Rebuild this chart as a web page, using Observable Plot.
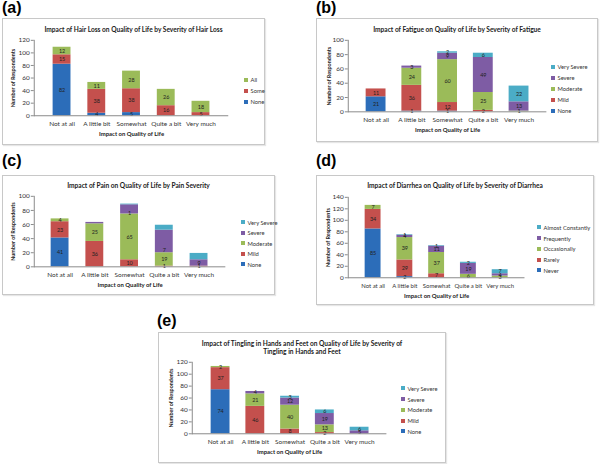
<!DOCTYPE html>
<html><head><meta charset="utf-8">
<script src="https://cdn.jsdelivr.net/npm/d3@7"></script>
<script src="https://cdn.jsdelivr.net/npm/@observablehq/plot@0.6"></script>
<style>
body{margin:0;background:#fff;}
#root{position:relative;width:600px;height:464px;overflow:hidden;font-family:Lato,"Open Sans",sans-serif;}
.panel{position:absolute;box-sizing:border-box;border:1px solid #c8c8c8;box-shadow:1px 1px 1px #e6e6e6;background:#fff;}
.panel svg{position:absolute;left:-1px;top:-1px;}
.plabel{position:absolute;font:bold 16px "Liberation Sans",Arial,sans-serif;line-height:16px;color:#000;}
.ptitle{position:absolute;left:0;right:0;text-align:center;font-weight:bold;font-size:6.6px;line-height:8px;color:#222;}
.legend{position:absolute;font-size:5.8px;color:#333;}
.legend div{display:flex;align-items:center;white-space:nowrap;}
.legend span.sw{display:inline-block;width:4px;height:4px;margin-right:2.5px;}
</style></head><body><div id="root"></div>
<script>
const categories = ["Not at all", "A little bit", "Somewhat", "Quite a bit", "Very much"];

// (a) Hair loss
const hairSeries = ["None", "Some", "All"];
const hairNone = [82, 4, 5, 0, 0];
const hairSome = [15, 38, 38, 16, 5];
const hairAll = [12, 11, 28, 26, 18];

// (b) Fatigue
const severitySeries = ["None", "Mild", "Moderate", "Severe", "Very Severe"];
const fatigueNone = [21, 1, 1, 0, 0];
const fatigueMild = [11, 36, 12, 2, 0];
const fatigueModerate = [0, 24, 60, 25, 1];
const fatigueSevere = [0, 3, 9, 49, 13];
const fatigueVerySevere = [0, 0, 2, 6, 22];

// (c) Pain
const painNone = [41, 0, 0, 0, 0];
const painMild = [23, 36, 10, 1, 1];
const painModerate = [4, 25, 65, 19, 0];
const painSevere = [0, 2, 13, 32, 9];
const painVerySevere = [0, 0, 1, 7, 9];

// (d) Diarrhea
const diarrheaSeries = ["Never", "Rarely", "Occasionally", "Frequently", "Almost Constantly"];
const diarrheaNever = [85, 2, 0, 0, 0];
const diarrheaRarely = [34, 29, 7, 0, 0];
const diarrheaOccasionally = [7, 39, 37, 6, 3];
const diarrheaFrequently = [0, 4, 11, 19, 4];
const diarrheaAlmostConstantly = [0, 1, 1, 2, 7];

// (e) Tingling
const tinglingNone = [74, 0, 0, 0, 0];
const tinglingMild = [37, 46, 8, 2, 0];
const tinglingModerate = [2, 21, 40, 13, 0];
const tinglingSevere = [0, 4, 12, 19, 5];
const tinglingVerySevere = [0, 0, 3, 6, 6];

const yTicks100 = [0, 20, 40, 60, 80, 100];
const yTicks120 = [0, 20, 40, 60, 80, 100, 120];
const yTicks140 = [0, 20, 40, 60, 80, 100, 120, 140];

const palette = ["#2C6DB9", "#C4504D", "#9BBB59", "#7E5CA4", "#4BACC6"];
const xLabel = "Impact on Quality of Life";
const yLabel = "Number of Respondents";

const root = document.getElementById("root");

function panel(cfg) {
  const tag = document.createElement("div");
  tag.className = "plabel";
  tag.textContent = cfg.tag;
  tag.style.left = cfg.tagPos[0] + "px";
  tag.style.top = cfg.tagPos[1] + "px";
  root.appendChild(tag);

  const box = document.createElement("div");
  box.className = "panel";
  Object.assign(box.style, {left: cfg.box[0] + "px", top: cfg.box[1] + "px", width: cfg.box[2] + "px", height: cfg.box[3] + "px"});

  const data = [];
  cfg.series.forEach((s, i) => categories.forEach((c, j) => data.push({category: c, series: s, value: cfg.values[i][j]})));
  const colors = palette.slice(0, cfg.series.length);
  const [ml, mr, mt, mb] = cfg.margins;
  const fs = cfg.tickFont || 6.5;

  const svg = Plot.plot({
    width: cfg.box[2], height: cfg.box[3],
    marginLeft: ml, marginRight: mr, marginTop: mt, marginBottom: mb,
    style: {fontFamily: "Lato, 'Open Sans', sans-serif", fontSize: fs + "px", color: "#333", background: "transparent", overflow: "visible"},
    x: {domain: categories, padding: cfg.padding, label: null},
    y: {domain: [0, cfg.ticks[cfg.ticks.length - 1]], label: null},
    color: {domain: cfg.series, range: colors},
    marks: [
      Plot.axisY({ticks: cfg.ticks, tickSize: 3, tickPadding: 1.5, label: null, stroke: "#8a8a8a", fontSize: 6.5}),
      Plot.axisX({tickSize: 0, tickPadding: 6, label: null, fontSize: fs}),
      Plot.barY(data, {x: "category", y: "value", fill: "series"}),
      Plot.text(data, Plot.stackY({x: "category", y: "value", text: d => d.value,
        filter: d => d.value > 0 && !(cfg.noLabel || []).includes(d.series),
        fontSize: 5.5, fill: "#222"})),
      Plot.ruleY([0], {stroke: "#8a8a8a"}),
      Plot.frame({anchor: "left", stroke: "#8a8a8a"}),
      Plot.text([yLabel], {frameAnchor: "left", text: d => d, rotate: -90, dx: cfg.ylabelDx, textAnchor: "middle", lineAnchor: "middle", fontWeight: "bold", fontSize: 5.5, fill: "#222"}),
      Plot.text([xLabel], {frameAnchor: "bottom", text: d => d, dy: 18, textAnchor: "middle", lineAnchor: "middle", fontWeight: "bold", fontSize: 6, fill: "#222"})
    ]
  });
  box.appendChild(svg);

  const title = document.createElement("div");
  title.className = "ptitle";
  title.style.top = cfg.titleTop + "px";
  title.innerHTML = cfg.title.join("<br>");
  box.appendChild(title);

  const legend = document.createElement("div");
  legend.className = "legend";
  legend.style.left = cfg.legend[0] + "px";
  legend.style.top = cfg.legend[1] + "px";
  cfg.series.slice().reverse().forEach(s => {
    const row = document.createElement("div");
    row.style.height = cfg.legend[2] + "px";
    const sw = document.createElement("span");
    sw.className = "sw";
    sw.style.background = colors[cfg.series.indexOf(s)];
    row.appendChild(sw);
    row.appendChild(document.createTextNode(s));
    legend.appendChild(row);
  });
  box.appendChild(legend);
  root.appendChild(box);
}

panel({tag: "(a)", tagPos: [2, 0], box: [2, 18, 263, 127], margins: [32, 35, 22, 29], padding: 0.48,
  ticks: yTicks120, series: hairSeries, values: [hairNone, hairSome, hairAll], ylabelDx: -21,
  title: ["Impact of Hair Loss on Quality of Life by Severity of Hair Loss"], titleTop: 6, legend: [241, 55, 11]});

panel({tag: "(b)", tagPos: [316, 0], box: [316, 18, 282, 124], margins: [32, 50, 22, 30], padding: 0.45,
  ticks: yTicks100, series: severitySeries, values: [fatigueNone, fatigueMild, fatigueModerate, fatigueSevere, fatigueVerySevere], ylabelDx: -19,
  title: ["Impact of Fatigue on Quality of Life by Severity of Fatigue"], titleTop: 6, legend: [234, 42, 11]});

panel({tag: "(c)", tagPos: [2, 153], box: [2, 175, 273, 120], margins: [32, 48, 21, 28], padding: 0.48,
  ticks: yTicks100, series: severitySeries, values: [painNone, painMild, painModerate, painSevere, painVerySevere], ylabelDx: -21,
  noLabel: ["Severe"],
  title: ["Impact of Pain on Quality of Life by Pain Severity"], titleTop: 5, legend: [238, 41, 10.5]});

panel({tag: "(d)", tagPos: [316, 153], box: [316, 175, 278, 130], margins: [32, 68, 22, 27], padding: 0.49, tickFont: 6,
  ticks: yTicks140, series: diarrheaSeries, values: [diarrheaNever, diarrheaRarely, diarrheaOccasionally, diarrheaFrequently, diarrheaAlmostConstantly], ylabelDx: -20,
  title: ["Impact of Diarrhea on Quality of Life by Severity of Diarrhea"], titleTop: 5, legend: [220, 46, 10.75]});

panel({tag: "(e)", tagPos: [157, 313], box: [158, 332, 288, 131], margins: [34, 58, 30, 29], padding: 0.46,
  ticks: yTicks120, series: severitySeries, values: [tinglingNone, tinglingMild, tinglingModerate, tinglingSevere, tinglingVerySevere], ylabelDx: -21,
  title: ["Impact of Tingling in Hands and Feet on Quality of Life by Severity of", "Tingling in Hands and Feet"], titleTop: 6, legend: [242, 50, 10.75]});
</script>
</body></html>
